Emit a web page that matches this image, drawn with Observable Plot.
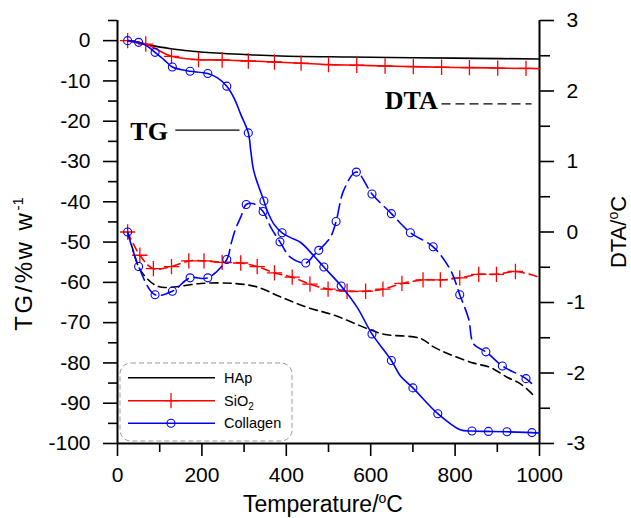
<!DOCTYPE html>
<html><head><meta charset="utf-8">
<script src="https://cdn.jsdelivr.net/npm/d3@7"></script>
<script src="https://cdn.jsdelivr.net/npm/@observablehq/plot@0.6"></script>
<style>body{margin:0;background:#fff} svg{display:block}</style>
</head><body><div id="chart"></div>
<script>
// ---------- data (temperature °C, value) ----------
const tgHAp = [[24,0],[63,-0.84],[126,-2.0],[197,-2.82],[308,-3.47],[386,-3.8],[552,-4.06],[700,-4.25],[850,-4.4],[1000,-4.55]];
const tgSiO2 = [[24,0],[67,-0.84],[128,-3.9],[192,-4.7],[248,-4.8],[310,-5.05],[372,-5.3],[435,-5.6],[500,-5.95],[567,-6.1],[634,-6.3],[701,-6.45],[768,-6.6],[834,-6.7],[901,-6.8],[968,-6.9],[1000,-6.95]];
const tgSiO2Marks = [24,67,128,192,248,310,372,435,500,567,634,701,768,834,901,968];
const tgCollagen = [[24,0],[50,-0.42],[71,-1.41],[89,-2.9],[110,-4.7],[130,-6.54],[150,-7.18],[172,-7.6],[214,-8.17],[237,-9.26],[259,-11.3],[276,-14.2],[292,-18.3],[310,-22.9],[316,-27.5],[323,-32.4],[347,-39.8],[355,-42.3],[371,-45.6],[390,-47.7],[410,-48.9],[434,-50.1],[465,-53.4],[489,-56.2],[530,-60.9],[568,-66.2],[603,-72.8],[649,-79.4],[670,-83.2],[700,-86.2],[759,-92.6],[812,-96.6],[840,-96.9],[879,-97.0],[923,-97.1],[982,-97.3],[1000,-97.4]];
const tgCollagenMarks = [24,50,89,130,172,214,259,310,347,390,489,530,603,649,700,759,840,879,923,982];

const dtaHAp = [[24,0.0],[35,-0.22],[55,-0.55],[95,-0.77],[134,-0.78],[197,-0.73],[276,-0.73],[331,-0.78],[386,-0.92],[450,-1.07],[513,-1.18],[592,-1.37],[631,-1.45],[718,-1.51],[749,-1.63],[789,-1.74],[844,-1.86],[883,-1.92],[923,-2.06],[954,-2.15],[990,-2.34]];
const dtaSiO2 = [[24,0.0],[53,-0.33],[85,-0.52],[128,-0.49],[169,-0.41],[205,-0.41],[248,-0.43],[292,-0.44],[331,-0.49],[372,-0.58],[414,-0.64],[456,-0.74],[499,-0.81],[544,-0.84],[588,-0.84],[629,-0.81],[674,-0.73],[724,-0.68],[765,-0.68],[811,-0.65],[856,-0.6],[898,-0.6],[943,-0.56],[994,-0.63]];
const dtaSiO2Marks = [24,53,85,128,169,205,248,292,331,372,414,456,499,544,588,629,674,724,765,811,856,898,943];
const dtaCollagen = [[24,0.0],[50,-0.49],[89,-0.89],[130,-0.84],[172,-0.65],[214,-0.65],[259,-0.39],[269,-0.17],[280,0.05],[292,0.21],[305,0.39],[323,0.4],[345,0.29],[363,0.07],[385,-0.14],[410,-0.36],[446,-0.44],[465,-0.33],[477,-0.26],[505,-0.07],[518,0.15],[536,0.59],[566,0.85],[603,0.54],[649,0.26],[694,-0.01],[748,-0.21],[790,-0.55],[811,-0.89],[832,-1.23],[844,-1.59],[873,-1.7],[912,-1.9],[968,-2.08],[990,-2.2]];
const dtaCollagenMarks = [24,50,89,130,172,214,259,305,345,385,446,477,518,566,603,649,694,748,811,873,912,968];

const xMajor = [0,200,400,600,800,1000];
const xMinor = [100,300,500,700,900];
const tgMajor = [0,-10,-20,-30,-40,-50,-60,-70,-80,-90,-100];
const tgMinor = [5,-5,-15,-25,-35,-45,-55,-65,-75,-85,-95];
const dtaMajor = [3,2,1,0,-1,-2,-3];
const dtaMinor = [2.5,1.5,0.5,-0.5,-1.5,-2.5];

const seriesNames = ["HAp","SiO2","Collagen"];
const seriesColors = ["#000000","#ff0000","#0000ff"];

// annotations (data coordinates on the TG scale)
const tgLabel = {text:"TG", t:75, v:-22.7, lineFrom:138, lineTo:288, lineV:-22.2};
const dtaLabel = {text:"DTA", t:696, v:-14.8, lineFrom:769, lineTo:980, lineV:-15.7};

// ---------- helpers ----------
const TG_MIN = -100, TG_MAX = 5, DTA_MIN = -3, DTA_MAX = 3;
const toL = d => TG_MIN + (d - DTA_MIN) * (TG_MAX - TG_MIN) / (DTA_MAX - DTA_MIN);
const fromL = v => DTA_MIN + (v - TG_MIN) * (DTA_MAX - DTA_MIN) / (TG_MAX - TG_MIN);
const rows = (arr, dta) => arr.map(([t, v]) => ({t, v: dta ? toL(v) : v}));
const pick = (arr, ts, dta) => rows(arr.filter(d => ts.includes(d[0])), dta);

const font = "'Liberation Sans', Arial, sans-serif";
const curve = "catmull-rom";

const plot = Plot.plot({
  width: 631, height: 518,
  marginLeft: 117, marginRight: 92, marginTop: 20, marginBottom: 75,
  x: {domain: [0, 1000]},
  y: {domain: [TG_MIN, TG_MAX]},
  style: {fontFamily: font, background: "white", overflow: "visible", color: "black"},
  marks: [
    // axes ticks
    Plot.axisX(xMajor, {tickSize: 13, tickPadding: 11, fontSize: 21, tickFormat: d => String(d), label: null, strokeWidth: 1.6}),
    Plot.axisX(xMinor, {tickSize: 9, tickFormat: () => "", label: null, strokeWidth: 1.6}),
    Plot.axisY(tgMajor, {anchor: "left", tickSize: 14, tickPadding: 13, fontSize: 21, tickFormat: d => String(d), label: null, strokeWidth: 1.6}),
    Plot.axisY(tgMinor, {anchor: "left", tickSize: 9, tickFormat: () => "", label: null, strokeWidth: 1.6}),
    Plot.axisY(dtaMajor.map(toL), {anchor: "right", tickSize: 14, tickPadding: 13, fontSize: 21, tickFormat: v => String(Math.round(fromL(v))), label: null, strokeWidth: 1.6}),
    Plot.axisY(dtaMinor.map(toL), {anchor: "right", tickSize: 10, tickFormat: () => "", label: null, strokeWidth: 1.6}),
    Plot.ruleX([0], {y1: TG_MIN, y2: TG_MAX, strokeWidth: 2}),
    Plot.ruleX([1000], {y1: TG_MIN, y2: TG_MAX, strokeWidth: 2}),
    Plot.ruleY([TG_MIN], {x1: 0, x2: 1000, strokeWidth: 2}),

    // DTA (dashed)
    Plot.line(rows(dtaHAp, true), {x: "t", y: "v", stroke: seriesColors[0], strokeWidth: 1.6, strokeDasharray: "8,5", curve}),
    Plot.line(rows(dtaSiO2, true), {x: "t", y: "v", stroke: seriesColors[1], strokeWidth: 1.6, strokeDasharray: "8,5", curve}),
    Plot.dot(pick(dtaSiO2, dtaSiO2Marks, true), {x: "t", y: "v", symbol: "plus", r: 5, stroke: seriesColors[1], strokeWidth: 1.3}),
    Plot.line(rows(dtaCollagen, true), {x: "t", y: "v", stroke: seriesColors[2], strokeWidth: 1.6, strokeDasharray: "13,6", curve}),
    Plot.dot(pick(dtaCollagen, dtaCollagenMarks, true), {x: "t", y: "v", r: 4, stroke: seriesColors[2], strokeWidth: 1.1, fill: "none"}),

    // TG (solid)
    Plot.line(rows(tgHAp), {x: "t", y: "v", stroke: seriesColors[0], strokeWidth: 1.6, curve}),
    Plot.line(rows(tgSiO2), {x: "t", y: "v", stroke: seriesColors[1], strokeWidth: 1.6, curve}),
    Plot.dot(pick(tgSiO2, tgSiO2Marks), {x: "t", y: "v", symbol: "plus", r: 5, stroke: seriesColors[1], strokeWidth: 1.3}),
    Plot.line(rows(tgCollagen), {x: "t", y: "v", stroke: seriesColors[2], strokeWidth: 1.6, curve}),
    Plot.dot(pick(tgCollagen, tgCollagenMarks), {x: "t", y: "v", r: 4, stroke: seriesColors[2], strokeWidth: 1.1, fill: "none"}),

    // annotations
    Plot.text([tgLabel], {x: "t", y: "v", text: "text", fontFamily: "'Liberation Serif', 'Times New Roman', serif", fontWeight: "bold", fontSize: 26, textAnchor: "middle", lineAnchor: "middle", fill: "black"}),
    Plot.line([[tgLabel.lineFrom, tgLabel.lineV], [tgLabel.lineTo, tgLabel.lineV]], {x: d => d[0], y: d => d[1], stroke: "black", strokeWidth: 1.3}),
    Plot.text([dtaLabel], {x: "t", y: "v", text: "text", fontFamily: "'Liberation Serif', 'Times New Roman', serif", fontWeight: "bold", fontSize: 26, textAnchor: "middle", lineAnchor: "middle", fill: "black"}),
    Plot.line([[dtaLabel.lineFrom, dtaLabel.lineV], [dtaLabel.lineTo, dtaLabel.lineV]], {x: d => d[0], y: d => d[1], stroke: "black", strokeWidth: 1.3, strokeDasharray: "8,6"})
  ]
});

const svg = d3.select(plot);

// axis titles
const xt = svg.append("text").attr("x", 323).attr("y", 512).attr("text-anchor", "middle")
  .attr("font-family", font).attr("font-size", 23).attr("fill", "black");
xt.append("tspan").text("Temperature/");
xt.append("tspan").attr("font-size", 14).attr("dy", -9).text("o");
xt.append("tspan").attr("dy", 9).text("C");

const yl = svg.append("text").attr("transform", "translate(32,264) rotate(-90)").attr("text-anchor", "middle")
  .attr("font-family", font).attr("font-size", 24).attr("fill", "black").attr("letter-spacing", 2.5);
yl.append("tspan").text("TG/%w w");
yl.append("tspan").attr("font-size", 15).attr("dy", -9).attr("letter-spacing", 0).text("-1");

const yr = svg.append("text").attr("transform", "translate(626,232) rotate(-90)").attr("text-anchor", "middle")
  .attr("font-family", font).attr("font-size", 22).attr("fill", "black");
yr.append("tspan").text("DTA/");
yr.append("tspan").attr("font-size", 14).attr("dy", -8).text("o");
yr.append("tspan").attr("dy", 8).text("C");

// legend
const lg = svg.append("g").attr("text-anchor", "start");
lg.append("rect").attr("x", 120).attr("y", 363).attr("width", 172).attr("height", 78).attr("rx", 11)
  .attr("fill", "white").attr("stroke", "#999").attr("stroke-width", 1).attr("stroke-dasharray", "5,3");
const rowsY = [377.7, 400.7, 423.3];
seriesNames.forEach((name, i) => {
  const y = rowsY[i];
  lg.append("line").attr("x1", 128).attr("x2", 215).attr("y1", y).attr("y2", y)
    .attr("stroke", seriesColors[i]).attr("stroke-width", 1.6);
  if (i === 1) {
    lg.append("path").attr("d", d3.symbol(d3.symbolPlus, Math.PI * 25)()).attr("transform", `translate(171,${y})`)
      .attr("stroke", seriesColors[i]).attr("fill", "none").attr("stroke-width", 1.3);
  }
  if (i === 2) {
    lg.append("circle").attr("cx", 171).attr("cy", y).attr("r", 4).attr("stroke", seriesColors[i]).attr("fill", "none").attr("stroke-width", 1.1);
  }
  const t = lg.append("text").attr("x", 224).attr("y", y + 5).attr("text-anchor", "start")
    .attr("font-family", font).attr("font-size", 14.5).attr("fill", "black");
  if (name === "SiO2") {
    t.append("tspan").text("SiO");
    t.append("tspan").attr("font-size", 10).attr("dy", 4).text("2");
  } else {
    t.text(name);
  }
});

document.getElementById("chart").appendChild(plot);
</script>
</body></html>
